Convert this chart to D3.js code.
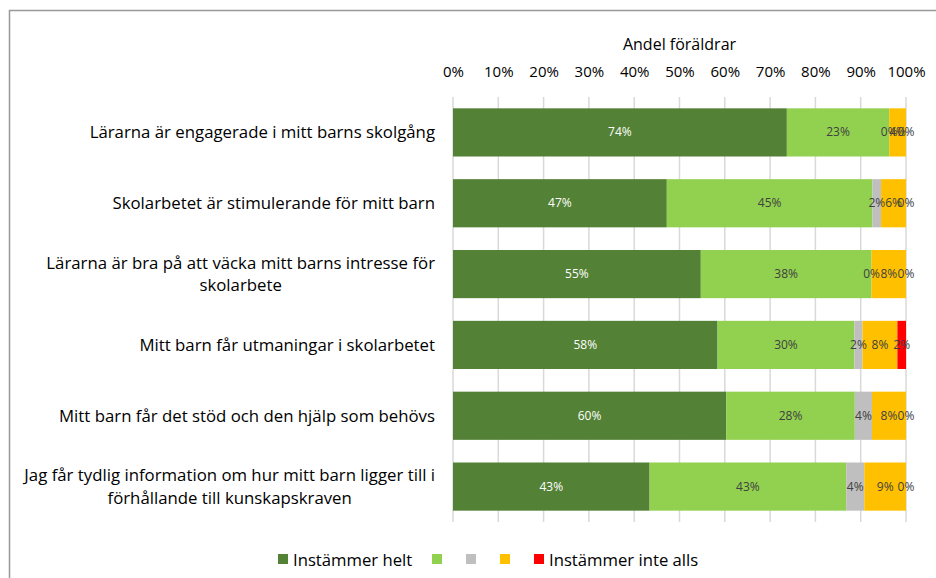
<!DOCTYPE html>
<html>
<head>
<meta charset="utf-8">
<script src="https://cdn.jsdelivr.net/npm/d3@7"></script>
<style>
  body { margin: 0; background: #fff; }
  text { font-family: "Open Sans", sans-serif; }
</style>
</head>
<body>
<div id="chart"></div>
<script>
// questions (top to bottom)
var questions = [
  "Lärarna är engagerade i mitt barns skolgång",
  "Skolarbetet är stimulerande för mitt barn",
  "Lärarna är bra på att väcka mitt barns intresse för|skolarbete",
  "Mitt barn får utmaningar i skolarbetet",
  "Mitt barn får det stöd och den hjälp som behövs",
  "Jag får tydlig information om hur mitt barn ligger till i|förhållande till kunskapskraven"
];

// answer categories
var seriesNames = ["Instämmer helt", "", "", "", "Instämmer inte alls"];
var seriesColors = ["#538135", "#92D050", "#BFBFBF", "#FFC000", "#FF0000"];

// share of parents per category (%), one array per series
var helt = [73.7, 47.2, 54.7, 58.4, 60.3, 43.4];
var s2 = [22.6, 45.4, 37.7, 30.2, 28.4, 43.4];
var s3 = [0, 1.9, 0, 1.8, 3.8, 4.0];
var s4 = [3.7, 5.5, 7.6, 7.7, 7.5, 9.2];
var inteAlls = [0, 0, 0, 1.9, 0, 0];

var xTicks = [0, 10, 20, 30, 40, 50, 60, 70, 80, 90, 100];

var series = [helt, s2, s3, s4, inteAlls];

var W = 936, H = 578;
var margin = { top: 97, left: 453, right: 30, bottom: 56 };

var svg = d3.select("#chart").append("svg")
  .attr("width", W).attr("height", H);

// outer frame
svg.append("rect")
  .attr("x", 9.5).attr("y", 10.5)
  .attr("width", W).attr("height", H)
  .attr("fill", "none").attr("stroke", "#999").attr("stroke-width", 1.5);

var x = d3.scaleLinear().domain([0, 100]).range([margin.left, 906]);
var y = d3.scaleBand().domain(d3.range(questions.length))
  .range([margin.top, 522]).paddingInner(0.32).paddingOuter(0.16);

// grid
svg.append("g").selectAll("line")
  .data(xTicks).join("line")
  .attr("x1", d => x(d)).attr("x2", d => x(d))
  .attr("y1", margin.top).attr("y2", 522)
  .attr("stroke", "#d9d9d9").attr("stroke-width", 1.5);

// top axis
var xAxis = d3.axisTop(x).tickValues(xTicks).tickFormat(d => d + "%").tickSize(0).tickPadding(0);
var ax = svg.append("g").attr("transform", "translate(0,77)").call(xAxis);
ax.select(".domain").remove();
ax.selectAll("text").attr("font-size", 15).attr("fill", "#000")
  .style("font-family", "'Open Sans', sans-serif");

svg.append("text")
  .attr("x", x(50)).attr("y", 50)
  .attr("text-anchor", "middle").attr("font-size", 16)
  .text("Andel föräldrar");

// stacks
var rows = questions.map(function (q, i) {
  var x0 = 0;
  return series.map(function (s, k) {
    var seg = { row: i, k: k, v: s[i], x0: x0, x1: x0 + s[i] };
    x0 += s[i];
    return seg;
  });
});
var segs = rows.flat();

svg.append("g").selectAll("rect")
  .data(segs).join("rect")
  .attr("x", d => x(d.x0))
  .attr("width", d => x(d.x1) - x(d.x0))
  .attr("y", d => y(d.row))
  .attr("height", y.bandwidth())
  .attr("fill", d => seriesColors[d.k]);

svg.append("g").selectAll("text")
  .data(segs).join("text")
  .attr("x", d => x((d.x0 + d.x1) / 2))
  .attr("y", d => y(d.row) + y.bandwidth() / 2 + 4)
  .attr("text-anchor", "middle")
  .attr("font-size", 12)
  .attr("fill", d => d.k === 0 ? "#fff" : "#404040")
  .text(d => Math.round(d.v) + "%");

// category labels
var catG = svg.append("g");
questions.forEach(function (q, i) {
  var lines = q.split("|");
  var cy = y(i) + y.bandwidth() / 2;
  var t = catG.append("text").attr("font-size", 16.8).attr("fill", "#000");
  lines.forEach(function (l, j) {
    t.append("tspan").text(l);
  });
  var widths = [];
  t.selectAll("tspan").each(function () { widths.push(this.getComputedTextLength()); });
  var maxW = d3.max(widths);
  var lh = 22.5;
  var top = cy - (lines.length - 1) * lh / 2 + 6;
  t.selectAll("tspan")
    .attr("x", lines.length > 1 ? 435 - maxW / 2 : 435)
    .attr("y", (d, j) => top + j * lh)
    .attr("text-anchor", lines.length > 1 ? "middle" : "end");
});

// legend
var legendX = [278, 432, 466, 500, 534];
var lg = svg.append("g");
seriesNames.forEach(function (n, k) {
  lg.append("rect").attr("x", legendX[k]).attr("y", 554)
    .attr("width", 10).attr("height", 10).attr("fill", seriesColors[k]);
  if (n) lg.append("text").attr("x", legendX[k] + 15).attr("y", 566)
    .attr("font-size", 16.7).text(n);
});
</script>
</body>
</html>
